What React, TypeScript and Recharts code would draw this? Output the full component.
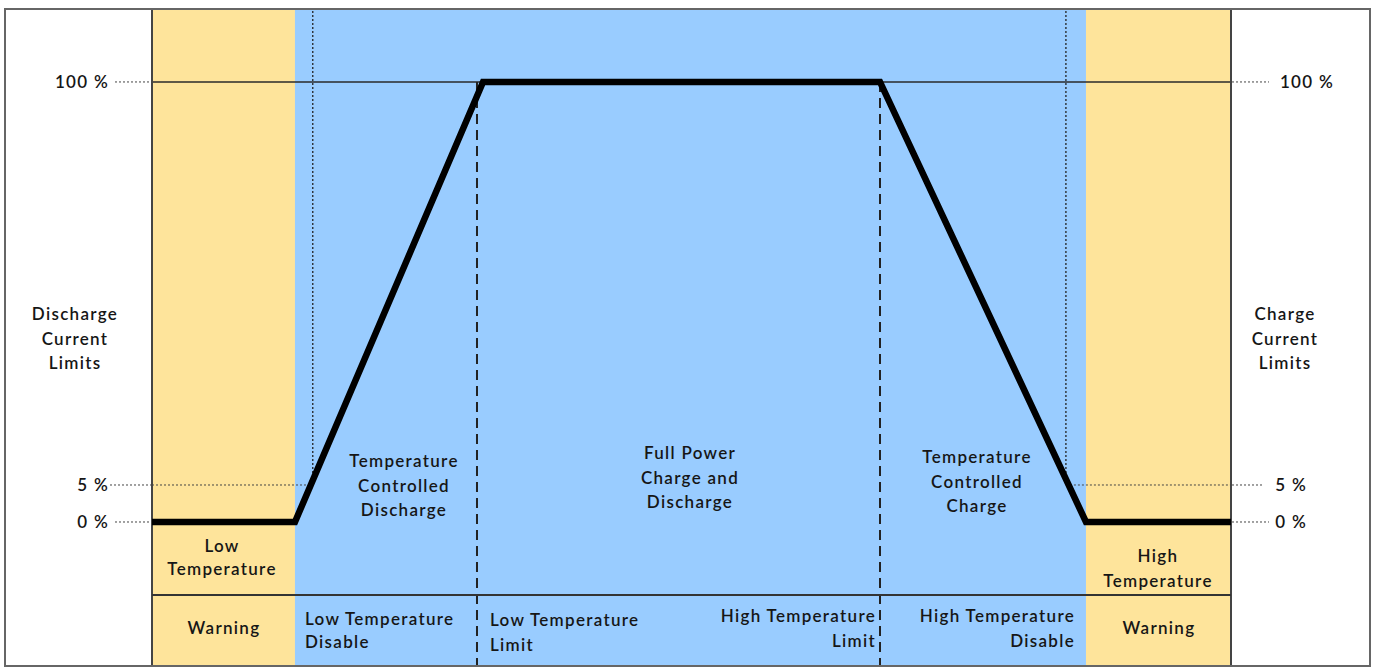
import { ComposedChart, Line, XAxis, YAxis, ReferenceArea, ReferenceLine } from 'recharts';

const W = 1377;
const H = 667;

// schematic temperature position across the plot (0 = left edge, 100 = right edge)
const limitTemps = [0, 13.25, 30.68, 67.47, 86.56, 100];
const limitPct = [0, 0, 100, 100, 0, 0];
const zoneEdges = [0, 13.25, 86.56, 100];
const zoneFills = ['#FEE49B', '#99CCFF', '#FEE49B'];
const limitMarks = [30.12, 67.47]; // dashed: low / high temperature limit
const disableMarks = [14.9, 84.7]; // dotted: limit reaches 5 %
const pctTicks = [0, 5, 100];

const Y_DOMAIN: [number, number] = [-19.6, 117.2];
const FONT = 'Lato, "Open Sans", sans-serif';
const INK = '#161616';
const TEXT_STYLE = { letterSpacing: '1.3px' };

const data = limitTemps.map((t, i) => ({ t, pct: limitPct[i] }));

// y scale for the schematic: the 0-5 % strip is stretched so the 5 % mark is readable
const STRETCH = 1.744;
const warp = (v: number) => (v < 5 ? v * STRETCH : 5 * STRETCH + v - 5);

function stretchScale(): any {
  let dom: number[] = [0, 1];
  let rng: number[] = [0, 1];
  const s: any = (v: number) => {
    const a = warp(Number(dom[0]));
    const b = warp(Number(dom[dom.length - 1]));
    return rng[0] + ((warp(v) - a) / (b - a)) * (rng[rng.length - 1] - rng[0]);
  };
  s.domain = (d?: number[]) => {
    if (!d) return dom;
    dom = [...d];
    return s;
  };
  s.range = (r?: number[]) => {
    if (!r) return rng;
    rng = [...r];
    return s;
  };
  s.copy = () => stretchScale().domain(dom).range(rng);
  s.ticks = () => pctTicks;
  s.nice = () => s;
  s.clamp = () => s;
  return s;
}

const LeftTick = ({ x, y, payload }: any) => (
  <g>
    <text x={x - 43} y={y + 6} textAnchor="end" fontFamily={FONT} fontSize={17} fontWeight={600} fill={INK} style={TEXT_STYLE}>
      {payload.value} %
    </text>
    <line x1={payload.value === 5 ? x - 42 : x - 37} x2={x - 1} y1={y} y2={y} stroke="#444" strokeDasharray="2 2" />
  </g>
);

const RightTick = ({ x, y, payload }: any) => (
  <g>
    <text
      x={x + (payload.value === 100 ? 103 : 76)}
      y={y + 6}
      textAnchor="end"
      fontFamily={FONT}
      fontSize={17}
      fontWeight={600}
      fill={INK}
      style={TEXT_STYLE}
    >
      {payload.value} %
    </text>
    <line x1={x + 1} x2={payload.value === 5 ? x + 32 : x + 38} y1={y} y2={y} stroke="#444" strokeDasharray="2 2" />
  </g>
);

type Note = { lines: string[]; x: number; y: number; anchor: 'start' | 'middle' | 'end'; gap?: number };

const notes: Note[] = [
  { lines: ['Discharge', 'Current', 'Limits'], x: 75, y: 320, anchor: 'middle' },
  { lines: ['Charge', 'Current', 'Limits'], x: 1285, y: 320, anchor: 'middle' },
  { lines: ['Temperature', 'Controlled', 'Discharge'], x: 404, y: 467, anchor: 'middle' },
  { lines: ['Full Power', 'Charge and', 'Discharge'], x: 690, y: 459, anchor: 'middle' },
  { lines: ['Temperature', 'Controlled', 'Charge'], x: 977, y: 463, anchor: 'middle' },
  { lines: ['Low', 'Temperature'], x: 222, y: 552, anchor: 'middle', gap: 23 },
  { lines: ['High', 'Temperature'], x: 1158, y: 562, anchor: 'middle', gap: 25 },
  { lines: ['Warning'], x: 224, y: 634, anchor: 'middle' },
  { lines: ['Low Temperature', 'Disable'], x: 305, y: 625, anchor: 'start', gap: 23 },
  { lines: ['Low Temperature', 'Limit'], x: 490, y: 626, anchor: 'start' },
  { lines: ['High Temperature', 'Limit'], x: 876, y: 622, anchor: 'end' },
  { lines: ['High Temperature', 'Disable'], x: 1075, y: 622, anchor: 'end' },
  { lines: ['Warning'], x: 1159, y: 634, anchor: 'middle' },
];

export default function App() {
  return (
    <div style={{ position: 'absolute', left: 0, top: 0, width: W, height: H, background: '#fff' }}>
      <ComposedChart width={W} height={H} data={data} margin={{ top: 9, right: 0, bottom: 0, left: 0 }}>
        <XAxis dataKey="t" type="number" domain={[0, 100]} hide />
        <YAxis
          yAxisId="l"
          type="number"
          width={152}
          domain={Y_DOMAIN}
          allowDataOverflow
          scale={stretchScale()}
          ticks={pctTicks}
          interval={0}
          axisLine={false}
          tickLine={false}
          tickSize={0}
          tickMargin={0}
          tick={<LeftTick />}
        />
        <YAxis
          yAxisId="r"
          orientation="right"
          type="number"
          width={146}
          domain={Y_DOMAIN}
          allowDataOverflow
          scale={stretchScale()}
          ticks={pctTicks}
          interval={0}
          axisLine={false}
          tickLine={false}
          tickSize={0}
          tickMargin={0}
          tick={<RightTick />}
        />
        {zoneFills.map((fill, i) => (
          <ReferenceArea
            key={'z' + i}
            yAxisId="l"
            x1={zoneEdges[i]}
            x2={zoneEdges[i + 1]}
            fill={fill}
            fillOpacity={1}
            stroke="none"
          />
        ))}
        <ReferenceLine yAxisId="l" y={100} stroke="#2a2a2a" strokeWidth={1.5} />
        {limitMarks.map((x) => (
          <ReferenceLine
            key={'lm' + x}
            yAxisId="l"
            segment={[{ x, y: 100 }, { x, y: Y_DOMAIN[0] }]}
            stroke="#222"
            strokeWidth={2}
            strokeDasharray="10 6"
          />
        ))}
        {disableMarks.map((x) => (
          <ReferenceLine
            key={'dm' + x}
            yAxisId="l"
            segment={[{ x, y: 5 }, { x, y: Y_DOMAIN[1] }]}
            stroke="#222"
            strokeWidth={1.3}
            strokeDasharray="2 2"
          />
        ))}
        <ReferenceLine yAxisId="l" segment={[{ x: 0, y: 5 }, { x: disableMarks[0], y: 5 }]} stroke="#444" strokeDasharray="2 2" />
        <ReferenceLine yAxisId="l" segment={[{ x: disableMarks[1], y: 5 }, { x: 100, y: 5 }]} stroke="#444" strokeDasharray="2 2" />
        <ReferenceLine yAxisId="l" x={0} stroke="#444" strokeWidth={2} />
        <ReferenceLine yAxisId="l" x={100} stroke="#444" strokeWidth={2} />
        <Line
          yAxisId="l"
          type="linear"
          dataKey="pct"
          stroke="#000"
          strokeWidth={6.5}
          dot={false}
          activeDot={false}
          isAnimationActive={false}
        />
      </ComposedChart>
      <svg width={W} height={H} style={{ position: 'absolute', left: 0, top: 0, pointerEvents: 'none' }}>
        <rect x={5} y={9} width={1365} height={657} fill="none" stroke="#666" strokeWidth={2} />
        <line x1={152} x2={1231} y1={595} y2={595} stroke="#333" strokeWidth={2} />
        {notes.map((n, i) => (
          <text
            key={i}
            x={n.x}
            y={n.y}
            textAnchor={n.anchor}
            fontFamily={FONT}
            fontSize={17}
            fontWeight={600}
            fill={INK}
            style={TEXT_STYLE}
          >
            {n.lines.map((l, j) => (
              <tspan key={j} x={n.x} dy={j === 0 ? 0 : n.gap ?? 24.5}>
                {l}
              </tspan>
            ))}
          </text>
        ))}
      </svg>
    </div>
  );
}
